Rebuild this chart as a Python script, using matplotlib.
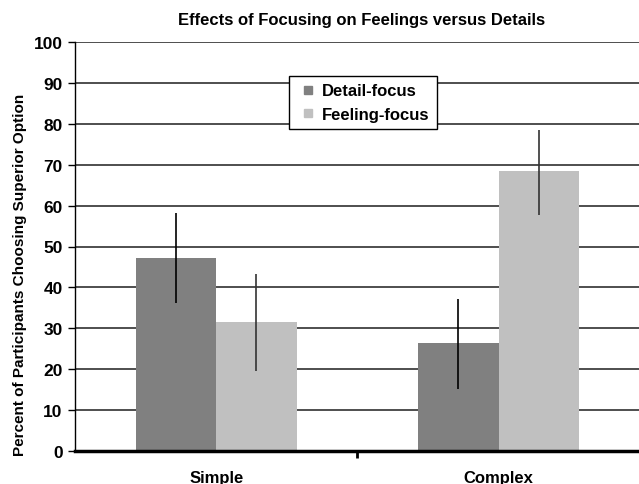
import numpy as np
import matplotlib
matplotlib.use("Agg")
import matplotlib.pyplot as plt
from matplotlib.lines import Line2D

plt.rcParams["font.family"] = ["Liberation Sans", "DejaVu Sans"]
plt.rcParams["font.weight"] = "bold"

categories = ["Simple", "Complex"]
series = ["Detail-focus", "Feeling-focus"]
detail = [47.1, 26.3]
feeling = [31.5, 68.4]
detail_lo = [36.2, 15.2]
detail_hi = [58.2, 37.2]
feeling_lo = [19.6, 57.8]
feeling_hi = [43.2, 78.6]

colors = ["#808080", "#c0c0c0"]
x = np.arange(len(categories))
w = 0.285

fig = plt.figure(figsize=(6.39, 4.85), dpi=100)
ax = fig.add_axes([75 / 639, 33 / 485, 1 - 75 / 639 + 0.01, 409 / 485])

ax.set_axisbelow(True)
ax.yaxis.grid(True, color="#404040", linewidth=1.3)
ax.bar(x - w / 2, detail, w, color=colors[0])
ax.bar(x + w / 2, feeling, w, color=colors[1])

d_err = [np.array(detail) - np.array(detail_lo), np.array(detail_hi) - np.array(detail)]
f_err = [np.array(feeling) - np.array(feeling_lo), np.array(feeling_hi) - np.array(feeling)]
ax.errorbar(x - w / 2, detail, yerr=d_err, fmt="none", ecolor="black", elinewidth=1.2, capsize=0)
ax.errorbar(x + w / 2, feeling, yerr=f_err, fmt="none", ecolor="#333333", elinewidth=1.2, capsize=0)

ax.set_ylim(0, 100)
ax.set_xlim(-0.5, 1.5 + 0.02)
ax.set_yticks(range(0, 101, 10))
ax.tick_params(axis="y", labelsize=12.5, length=5, width=1, pad=4)
ax.set_xticks([0.5])
ax.set_xticklabels([""])
ax.tick_params(axis="x", length=5, width=2)
for i, c in enumerate(categories):
    ax.text(x[i], -0.064, c, transform=ax.get_xaxis_transform(), ha="center", va="center",
            fontsize=12, fontweight="bold")

ax.spines["top"].set_visible(False)
ax.spines["right"].set_visible(False)
ax.spines["bottom"].set_linewidth(2.5)
ax.spines["left"].set_linewidth(1)

ax.set_ylabel("Percent of Participants Choosing Superior Option", fontsize=11, fontweight="bold")
ax.yaxis.set_label_coords(-0.084, 0.433)
fig.text(362 / 639, 1 - 20 / 485, "Effects of Focusing on Feelings versus Details",
         ha="center", va="center", fontsize=12, fontweight="bold")

handles = [Line2D([], [], marker="s", linestyle="none", markersize=6, color=c) for c in colors]
leg = ax.legend(handles, series, loc="center", bbox_to_anchor=(0.505, 0.852), fontsize=12,
                frameon=True, fancybox=False, edgecolor="black", framealpha=1,
                handlelength=1.4, handletextpad=0.1, borderpad=0.45, labelspacing=0.5)
leg.get_frame().set_linewidth(1)

fig.savefig("out.png", dpi=100)
